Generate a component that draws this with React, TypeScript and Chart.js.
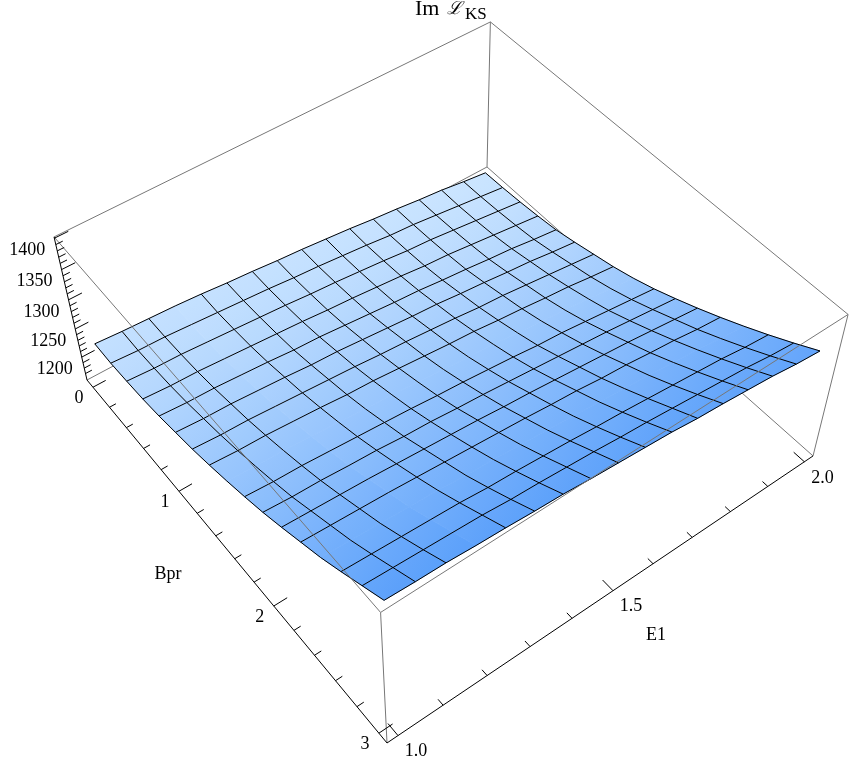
import React, { useEffect, useRef } from "react";
import { Chart, registerables } from "chart.js";

Chart.register(...registerables);

const title = ["Im", "ℒ", "KS"];
const e1Grid = [1, 1.0625, 1.125, 1.1875, 1.25, 1.3125, 1.375, 1.4375, 1.5, 1.5625, 1.625, 1.6875, 1.75, 1.8125, 1.875, 1.9375, 2];
const bprGrid = [0, 0.1875, 0.375, 0.5625, 0.75, 0.9375, 1.125, 1.3125, 1.5, 1.6875, 1.875, 2.0625, 2.25, 2.4375, 2.625, 2.8125, 3];
const e1MeshLines = [1.0625, 1.125, 1.25, 1.3125, 1.375, 1.4375, 1.5, 1.5625, 1.625, 1.6875, 1.75, 1.8125, 1.875, 1.9375];
const bprMeshLines = [0.1875, 0.375, 0.5625, 0.75, 0.9375, 1.125, 1.3125, 1.6875, 1.875, 2.0625, 2.25, 2.625, 2.8125];

const row00 = [1227,1224,1222,1220,1217,1213,1210,1206,1203,1199,1195,1190,1186,1181,1177,1171,1166];
const row01 = [1226,1223,1222,1219,1216,1213,1210,1206,1203,1199,1195,1190,1187,1182,1177,1172,1167];
const row02 = [1228,1225,1224,1221,1218,1215,1212,1208,1205,1201,1197,1192,1189,1184,1179,1174,1169];
const row03 = [1231,1228,1227,1224,1221,1218,1215,1211,1208,1204,1200,1195,1192,1187,1182,1177,1172];
const row04 = [1236,1233,1232,1229,1226,1222,1220,1216,1212,1208,1205,1200,1196,1191,1187,1181,1176];
const row05 = [1243,1240,1239,1236,1233,1229,1227,1223,1219,1215,1212,1207,1203,1198,1194,1188,1183];
const row06 = [1250,1247,1246,1243,1240,1237,1234,1230,1227,1223,1219,1214,1211,1206,1201,1196,1191];
const row07 = [1259,1256,1255,1252,1249,1245,1243,1239,1235,1231,1228,1223,1219,1214,1210,1204,1199];
const row08 = [1269,1266,1265,1262,1259,1255,1253,1249,1245,1241,1238,1233,1229,1224,1220,1214,1209];
const row09 = [1280,1277,1276,1273,1270,1267,1264,1260,1257,1253,1249,1244,1241,1236,1231,1226,1221];
const row10 = [1292,1289,1288,1285,1283,1279,1277,1273,1270,1266,1262,1258,1254,1250,1245,1240,1235];
const row11 = [1306,1304,1302,1300,1297,1294,1291,1288,1284,1281,1277,1273,1269,1265,1260,1255,1250];
const row12 = [1321,1319,1317,1315,1312,1309,1306,1303,1300,1296,1293,1288,1285,1280,1276,1270,1266];
const row13 = [1336,1334,1332,1330,1328,1324,1322,1319,1316,1312,1309,1305,1301,1297,1293,1287,1283];
const row14 = [1354,1352,1350,1348,1346,1342,1340,1337,1334,1330,1327,1323,1319,1315,1311,1305,1301];
const row15 = [1373,1371,1369,1367,1365,1361,1359,1356,1353,1349,1346,1342,1338,1334,1330,1324,1320];
const row16 = [1392,1390,1389,1386,1384,1381,1379,1375,1372,1369,1366,1361,1358,1354,1350,1344,1340];
const imRows = [row00,row01,row02,row03,row04,row05,row06,row07,row08,row09,row10,row11,row12,row13,row14,row15,row16];

const zMajorTicks = [1200, 1250, 1300, 1350, 1400];
const zMinorTicks = [1170,1180,1190,1210,1220,1230,1240,1260,1270,1280,1290,1310,1320,1330,1340,1360,1370,1380,1390];
const bprMajorTicks = [0, 1, 2, 3];
const bprMinorTicks = [0.2,0.4,0.6,0.8,1.2,1.4,1.6,1.8,2.2,2.4,2.6,2.8];
const e1MajorTicks = [1, 1.5, 2];
const e1MinorTicks = [1.1,1.2,1.3,1.4,1.6,1.7,1.8,1.9];
const e1Labels = ["1.0", "1.5", "2.0"];

const E1_MIN = 0.976, E1_MAX = 2.024;
const BPR_MIN = -0.073, BPR_MAX = 3.073;
const Z_MIN = 1158, Z_MAX = 1402;

// perspective camera of the 3D box: a, b, c are the fractions along the E1, Bpr and Im axes
function project(e1: number, bpr: number, z: number) {
  const a = (e1 - E1_MIN) / (E1_MAX - E1_MIN);
  const b = (bpr - BPR_MIN) / (BPR_MAX - BPR_MIN);
  const c = (z - Z_MIN) / (Z_MAX - Z_MIN);
  const w = 1 + 0.11105 * a - 0.14602 * b - 0.0841 * c;
  return {
    x: (87 + 454.1 * a + 243.5 * b - 37.5 * c) / w,
    y: (380 - 194.5 * a + 254.5 * b - 163 * c) / w,
  };
}

const GRAY = "#777777";
const BLACK = "#000000";

function lineSet(data: any[], color: string, width = 1) {
  return {
    data,
    borderColor: color,
    borderWidth: width,
    pointRadius: 0,
    fill: false,
    tension: 0,
    clip: false,
  } as any;
}

function shade(s: number, t: number) {
  const light = [200, 227, 255];
  const dark = [88, 158, 250];
  const f = 0.05 + 0.92 * Math.pow(s, 1.2) - 0.08 * t;
  const v = light.map((l, i) => Math.round(l + (dark[i] - l) * f));
  return `rgb(${v[0]},${v[1]},${v[2]})`;
}

function buildDatasets(ctx: CanvasRenderingContext2D) {
  const sets: any[] = [];
  const cornerE = [E1_MIN, E1_MAX];
  const cornerB = [BPR_MIN, BPR_MAX];
  const [zb, zt] = [Z_MIN, Z_MAX];
  const edge = (p: number[], q: number[], color: string) =>
    lineSet([project(p[0], p[1], p[2]), project(q[0], q[1], q[2])], color);

  const L = [cornerE[0], cornerB[0]];
  const K = [cornerE[1], cornerB[0]];
  const R = [cornerE[1], cornerB[1]];
  const F = [cornerE[0], cornerB[1]];

  // box edges behind the surface
  sets.push(edge([...L, zb], [...K, zb], GRAY));
  sets.push(edge([...K, zb], [...R, zb], GRAY));
  sets.push(edge([...K, zb], [...K, zt], GRAY));
  sets.push(edge([...L, zt], [...K, zt], GRAY));
  sets.push(edge([...K, zt], [...R, zt], GRAY));
  sets.push(edge([...R, zb], [...R, zt], GRAY));

  // surface cells, shaded along Bpr with a small E1 drift
  for (let k = 0; k < bprGrid.length - 1; k++) {
    for (let m = 0; m < e1Grid.length - 1; m++) {
      const t = (m + 0.5) / 16;
      const pts = [
        project(e1Grid[m], bprGrid[k], imRows[k][m]),
        project(e1Grid[m + 1], bprGrid[k], imRows[k][m + 1]),
        project(e1Grid[m + 1], bprGrid[k + 1], imRows[k + 1][m + 1]),
        project(e1Grid[m], bprGrid[k + 1], imRows[k + 1][m]),
      ];
      const g = ctx.createLinearGradient(
        (pts[0].x + pts[1].x) / 2,
        (pts[0].y + pts[1].y) / 2,
        (pts[2].x + pts[3].x) / 2,
        (pts[2].y + pts[3].y) / 2
      );
      g.addColorStop(0, shade(k / 16, t));
      g.addColorStop(1, shade((k + 1) / 16, t));
      sets.push({
        data: [...pts, pts[0]],
        borderColor: g,
        backgroundColor: g,
        borderWidth: 0.8,
        pointRadius: 0,
        fill: "shape",
        tension: 0,
        clip: false,
      });
    }
  }

  // mesh lines
  const MESH = 1;
  for (const e of e1MeshLines) {
    const m = e1Grid.indexOf(e);
    sets.push(lineSet(bprGrid.map((b, k) => project(e, b, imRows[k][m])), BLACK, MESH));
  }
  for (const b of bprMeshLines) {
    const k = bprGrid.indexOf(b);
    sets.push(lineSet(e1Grid.map((e, m) => project(e, b, imRows[k][m])), BLACK, MESH));
  }
  // surface outline
  const last = e1Grid.length - 1;
  sets.push(lineSet(e1Grid.map((e, m) => project(e, 0, row00[m])), BLACK, MESH));
  sets.push(lineSet(e1Grid.map((e, m) => project(e, 3, row16[m])), BLACK, MESH));
  sets.push(lineSet(bprGrid.map((b, k) => project(1, b, imRows[k][0])), BLACK, MESH));
  sets.push(lineSet(bprGrid.map((b, k) => project(2, b, imRows[k][last])), BLACK, MESH));

  // box edges in front of the surface
  sets.push(edge([...L, zt], [...F, zt], GRAY));
  sets.push(edge([...R, zt], [...F, zt], GRAY));
  sets.push(edge([...F, zt], [...F, zb], GRAY));

  // axes
  sets.push(edge([...L, zb], [...L, zt], BLACK));
  sets.push(edge([...L, zb], [...F, zb], BLACK));
  sets.push(edge([...F, zb], [...R, zb], BLACK));

  // z ticks grow along E1
  const E1D = 0.03;
  zMajorTicks.forEach((z) => sets.push(edge([E1_MIN, BPR_MIN, z], [E1_MIN + E1D, BPR_MIN, z], BLACK)));
  zMinorTicks.forEach((z) => sets.push(edge([E1_MIN, BPR_MIN, z], [E1_MIN + E1D / 2, BPR_MIN, z], BLACK)));
  // Bpr ticks grow along E1
  bprMajorTicks.forEach((b) => sets.push(edge([E1_MIN, b, Z_MIN], [E1_MIN + E1D, b, Z_MIN], BLACK)));
  bprMinorTicks.forEach((b) => sets.push(edge([E1_MIN, b, Z_MIN], [E1_MIN + E1D / 2, b, Z_MIN], BLACK)));
  // E1 ticks grow back along Bpr
  const BD = 0.09;
  e1MajorTicks.forEach((e) => sets.push(edge([e, BPR_MAX, Z_MIN], [e, BPR_MAX - BD, Z_MIN], BLACK)));
  e1MinorTicks.forEach((e) => sets.push(edge([e, BPR_MAX, Z_MIN], [e, BPR_MAX - BD / 2, Z_MIN], BLACK)));

  const n = sets.length;
  sets.forEach((d, i) => (d.order = n - i));
  return sets;
}

const textPlugin = {
  id: "axisText",
  afterDatasetsDraw(chart: any) {
    const ctx = chart.ctx;
    ctx.save();
    ctx.fillStyle = "#000";
    ctx.textAlign = "center";
    ctx.textBaseline = "middle";
    ctx.font = '18px "Liberation Serif"';
    zMajorTicks.forEach((z) => {
      const p = project(E1_MIN, BPR_MIN, z);
      ctx.fillText(String(z), p.x - 27, p.y + 12);
    });
    bprMajorTicks.forEach((b) => {
      const p = project(E1_MIN, b, Z_MIN);
      ctx.fillText(String(b), p.x - 14, p.y + 11);
    });
    e1MajorTicks.forEach((e, i) => {
      const p = project(e, BPR_MAX, Z_MIN);
      ctx.fillText(e1Labels[i], p.x + 18, p.y + 16);
    });
    ctx.fillText("Bpr", 168, 574);
    ctx.fillText("E1", 656, 635);
    ctx.textAlign = "left";
    ctx.font = '22px "Liberation Serif"';
    ctx.fillText(title[0], 415, 9);
    ctx.font = 'italic 18px "DejaVu Serif"';
    ctx.fillText(title[1], 447, 9);
    ctx.font = '17px "Liberation Serif"';
    ctx.fillText(title[2], 465, 15);
    ctx.restore();
  },
};

export default function App() {
  const ref = useRef<HTMLCanvasElement>(null);
  useEffect(() => {
    if (!ref.current) return;
    const ctx = ref.current.getContext("2d") as CanvasRenderingContext2D;
    const chart = new Chart(ref.current, {
      type: "line",
      data: { datasets: buildDatasets(ctx) },
      options: {
        animation: false,
        responsive: false,
        devicePixelRatio: 1,
        parsing: false,
        normalized: false,
        layout: { padding: 0 },
        plugins: { legend: { display: false }, tooltip: { enabled: false }, title: { display: false } },
        scales: {
          x: { type: "linear", display: false, min: 0, max: 859 },
          y: { type: "linear", display: false, min: 0, max: 761, reverse: true },
        },
      },
      plugins: [textPlugin],
    } as any);
    return () => chart.destroy();
  }, []);
  return (
    <div style={{ position: "absolute", left: 0, top: 0, width: 859, height: 761, background: "#fff" }}>
      <canvas ref={ref} width={859} height={761} style={{ display: "block" }} />
    </div>
  );
}
